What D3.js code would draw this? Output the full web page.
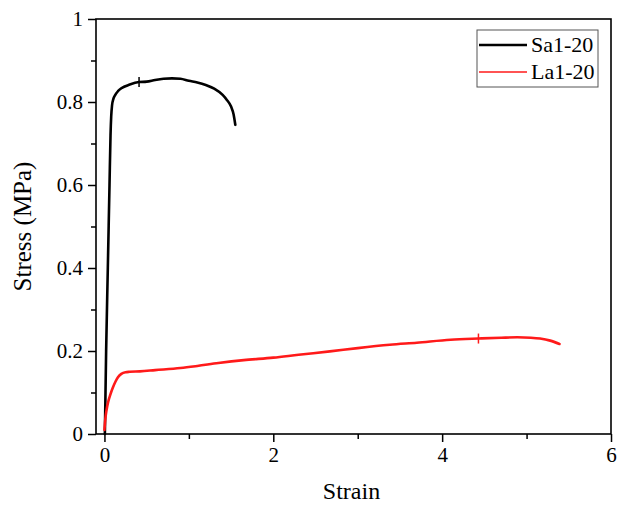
<!DOCTYPE html>
<html><head><meta charset="utf-8">
<script src="https://cdn.jsdelivr.net/npm/d3@7"></script>
<style>
html,body{margin:0;padding:0;background:#fff;}
text{font-family:"Liberation Serif","Times New Roman",serif;fill:#000;}
</style></head>
<body><svg id="chart" width="617" height="506"></svg>
<script>
// Series names
const seriesNames = ["Sa1-20", "La1-20"];
const seriesColors = ["#000000", "#ff1a1a"];
// Sa1-20: [strain, stress]
const sa120 = [[0.005,0],[0.02,0.2],[0.04,0.4],[0.06,0.6],[0.072,0.72],[0.08,0.765],[0.09,0.792],[0.105,0.807],[0.125,0.816],[0.16,0.826],[0.2,0.833],[0.3,0.842],[0.41,0.848],[0.5,0.849],[0.6,0.853],[0.7,0.856],[0.8,0.857],[0.9,0.856],[1.0,0.851],[1.1,0.847],[1.2,0.841],[1.3,0.832],[1.4,0.817],[1.45,0.805],[1.5,0.789],[1.53,0.77],[1.55,0.745]];
// La1-20: [strain, stress]
const la120 = [[0.0,0.01],[0.01,0.035],[0.025,0.058],[0.045,0.078],[0.07,0.095],[0.1,0.112],[0.13,0.126],[0.16,0.137],[0.2,0.145],[0.25,0.149],[0.3,0.150],[0.42,0.151],[0.6,0.154],[0.9,0.159],[1.1,0.164],[1.35,0.171],[1.65,0.178],[2.0,0.184],[2.3,0.191],[2.67,0.199],[3.0,0.207],[3.38,0.215],[3.7,0.220],[4.1,0.227],[4.43,0.230],[4.7,0.232],[4.89,0.233],[5.05,0.232],[5.16,0.230],[5.28,0.225],[5.39,0.217]];
// break markers [strain, stress]
const markers = [[0.41,0.848],[4.43,0.230]];
const xTicks = [0,2,4,6];
const xMinor = [1,3,5];
const yTicks = [0,0.2,0.4,0.6,0.8,1];
const yMinor = [0.1,0.3,0.5,0.7,0.9];
const xTitle = "Strain";
const yTitle = "Stress (MPa)";

const svg = d3.select("#chart");
const L=96, R=611, T=19, B=434;
const x = d3.scaleLinear().domain([-0.1,6]).range([L,R]);
const y = d3.scaleLinear().domain([0,1]).range([B,T]);

// frame
svg.append("rect").attr("x",L).attr("y",T).attr("width",R-L).attr("height",B-T)
  .attr("fill","none").attr("stroke","#000").attr("stroke-width",1.6);

// x axis
const gx = svg.append("g").attr("transform",`translate(0,${B})`);
gx.call(d3.axisBottom(x).tickValues(xTicks).tickSize(8).tickFormat(d3.format("d")));
gx.append("g").call(d3.axisBottom(x).tickValues(xMinor).tickSize(5).tickFormat(""));
// y axis
const gy = svg.append("g").attr("transform",`translate(${L},0)`);
gy.call(d3.axisLeft(y).tickValues(yTicks).tickSize(8).tickFormat(d=>d===0||d===1?String(d):d3.format(".1f")(d)));
gy.append("g").call(d3.axisLeft(y).tickValues(yMinor).tickSize(5).tickFormat(""));
svg.selectAll(".domain").remove();
svg.selectAll(".tick line").attr("stroke","#000").attr("stroke-width",1.5);
gx.selectAll(".tick text").attr("font-size",21).attr("dy","0.71em").attr("y",13)
  .attr("font-family","Liberation Serif");
gy.selectAll(".tick text").attr("font-size",21).attr("x",-13)
  .attr("font-family","Liberation Serif");

// titles
svg.append("text").attr("x",(L+R)/2-2).attr("y",499).attr("text-anchor","middle")
  .attr("font-size",24).text(xTitle);
svg.append("text").attr("transform",`translate(31,${(T+B)/2}) rotate(-90)`)
  .attr("text-anchor","middle").attr("font-size",25).text(yTitle);

// lines
const line = d3.line().x(d=>x(d[0])).y(d=>y(d[1])).curve(d3.curveMonotoneX);
const data = [sa120, la120];
data.forEach((s,i)=>{
  svg.append("path").datum(s).attr("d",line).attr("fill","none")
    .attr("stroke",seriesColors[i]).attr("stroke-width",2.6)
    .attr("stroke-linejoin","round").attr("stroke-linecap","round");
});
markers.forEach((m,i)=>{
  svg.append("line").attr("x1",x(m[0])).attr("x2",x(m[0]))
    .attr("y1",y(m[1])-5).attr("y2",y(m[1])+5)
    .attr("stroke",seriesColors[i]).attr("stroke-width",1.5);
});

// legend
const lg = svg.append("g");
lg.append("rect").attr("x",477).attr("y",30).attr("width",121).attr("height",57)
  .attr("fill","#fff").attr("stroke","#555").attr("stroke-width",1);
seriesNames.forEach((n,i)=>{
  const yy = 45 + i*27;
  lg.append("line").attr("x1",479).attr("x2",527).attr("y1",yy).attr("y2",yy)
    .attr("stroke",seriesColors[i]).attr("stroke-width",i===0?2.4:1.6);
  lg.append("text").attr("x",531).attr("y",yy+7).attr("font-size",22).text(n);
});
</script></body></html>
